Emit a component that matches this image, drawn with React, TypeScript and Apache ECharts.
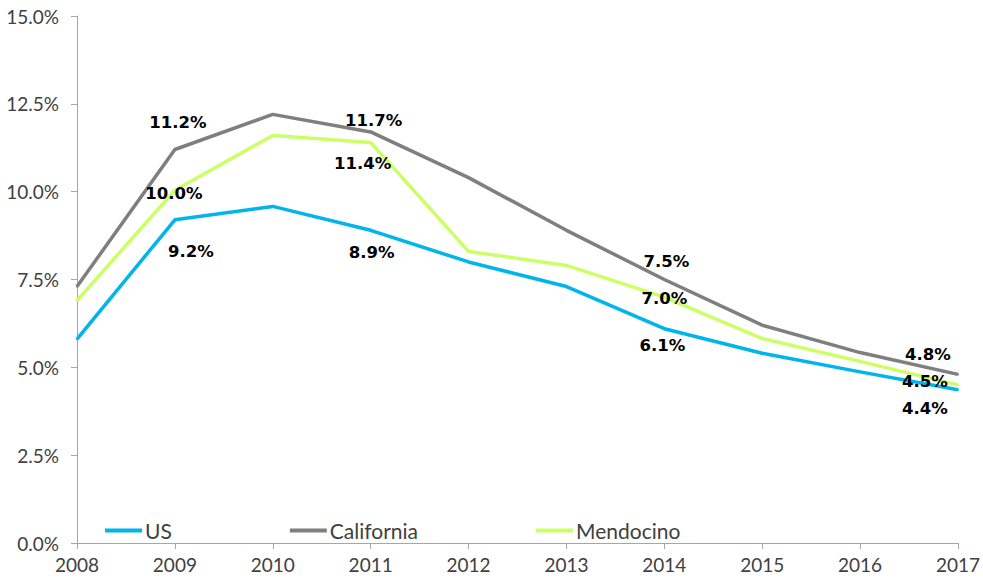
import React, { useEffect, useRef } from "react";
import * as echarts from "echarts";

const years = ["2008", "2009", "2010", "2011", "2012", "2013", "2014", "2015", "2016", "2017"];
const usValues = [5.8, 9.2, 9.58, 8.9, 8.0, 7.3, 6.1, 5.4, 4.87, 4.36];
const californiaValues = [7.3, 11.2, 12.2, 11.7, 10.4, 8.9, 7.5, 6.2, 5.42, 4.8];
const mendocinoValues = [6.9, 10.04, 11.6, 11.4, 8.3, 7.9, 7.0, 5.82, 5.17, 4.5];
const labeledIndices = [1, 3, 6, 9];

// label placement (style, not data)
const usOffsets: Record<number, [number, number]> = { 1: [16, 32], 3: [1, 22], 6: [-2, 17], 9: [-33, 19] };
const caOffsets: Record<number, [number, number]> = { 1: [3, -27], 3: [3, -11], 6: [2, -18], 9: [-30, -20] };
const meOffsets: Record<number, [number, number]> = { 1: [-1, 3], 3: [-8, 21], 6: [0, 1], 9: [-33, -3] };

const buildData = (vals: number[], offsets: Record<number, [number, number]>) =>
  vals.map((v, i) =>
    labeledIndices.includes(i)
      ? { value: v, label: { show: true, offset: offsets[i] } }
      : { value: v }
  );

export default function App() {
  const ref = useRef<HTMLDivElement>(null);
  useEffect(() => {
    if (!ref.current) return;
    const chart = echarts.init(ref.current, undefined, { renderer: "svg" });
    const labelStyle = {
      show: false,
      position: "inside",
      fontFamily: "DejaVu Sans",
      fontWeight: "bold",
      fontSize: 16.5,
      color: "#000000",
      formatter: (p: any) => Number(p.value).toFixed(1) + "%",
    };
    const mkSeries = (name: string, vals: number[], offs: Record<number, [number, number]>, color: string) => ({
      name,
      type: "line",
      data: buildData(vals, offs),
      symbol: "circle",
      symbolSize: 2,
      showSymbol: true,
      itemStyle: { color },
      lineStyle: { color, width: 3.5 },
      label: labelStyle,
      emphasis: { disabled: true },
    });
    chart.setOption({
      animation: false,
      backgroundColor: "#ffffff",
      grid: { left: 77, right: 23, top: 16, bottom: 38, containLabel: false },
      legend: {
        left: 105,
        top: 520,
        icon: "rect",
        itemWidth: 37,
        itemHeight: 4,
        itemGap: 118,
        padding: 0,
        textStyle: { fontFamily: "Lato", fontSize: 21, color: "#404040", padding: [0, 0, 0, -2] },
        data: ["US", "California", "Mendocino"],
      },
      xAxis: {
        type: "category",
        data: years,
        boundaryGap: false,
        axisLine: { show: true, lineStyle: { color: "#A6A6A6", width: 1 } },
        axisTick: { show: true, length: 6, lineStyle: { color: "#A6A6A6" } },
        axisLabel: { fontFamily: "Lato", fontSize: 19, color: "#404040", margin: 12 },
        splitLine: { show: false },
      },
      yAxis: {
        type: "value",
        min: 0,
        max: 15,
        interval: 2.5,
        axisLine: { show: true, lineStyle: { color: "#A6A6A6", width: 1 } },
        axisTick: { show: true, length: 6, lineStyle: { color: "#A6A6A6" } },
        axisLabel: {
          fontFamily: "Lato",
          fontSize: 19,
          color: "#404040",
          margin: 18,
          formatter: (v: number) => v.toFixed(1) + "%",
        },
        splitLine: { show: false },
      },
      series: [
        mkSeries("US", usValues, usOffsets, "#00B4EC"),
        mkSeries("California", californiaValues, caOffsets, "#7F7F7F"),
        mkSeries("Mendocino", mendocinoValues, meOffsets, "#CCFF66"),
      ],
    });
    return () => chart.dispose();
  }, []);
  return <div ref={ref} style={{ width: 983, height: 581, position: "absolute", left: 0, top: 0 }} />;
}
